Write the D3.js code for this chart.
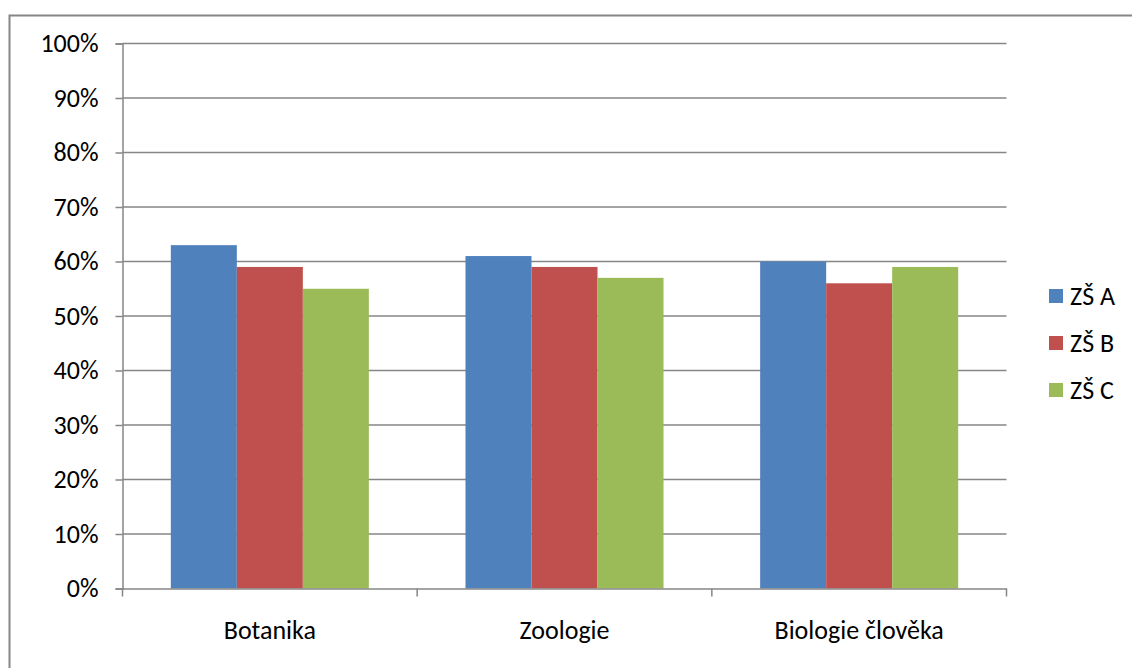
<!DOCTYPE html>
<html>
<head>
<meta charset="utf-8">
<script src="https://cdn.jsdelivr.net/npm/d3@7"></script>
<style>
  html, body { margin: 0; padding: 0; background: #fff; }
  svg { display: block; font-family: Carlito, Lato, "Liberation Sans", sans-serif; }
</style>
</head>
<body>
<svg id="chart" width="1132" height="668"></svg>
<script>
// Categories, series and values (share of correct answers, %)
const categories = ["Botanika", "Zoologie", "Biologie člověka"];
const seriesNames = ["ZŠ A", "ZŠ B", "ZŠ C"];
const valuesA = [63, 61, 60];
const valuesB = [59, 59, 56];
const valuesC = [55, 57, 59];
const yTicks = [0, 10, 20, 30, 40, 50, 60, 70, 80, 90, 100];
const colors = ["#4f81bd", "#c0504d", "#9bbb59"];

const seriesValues = [valuesA, valuesB, valuesC];
const rows = categories.map((c, i) => ({
  category: c,
  values: seriesNames.map((s, j) => ({ series: s, value: seriesValues[j][i] }))
}));

const svg = d3.select("#chart");
const grid = "#868686";
const fontFamily = "Carlito, Lato, 'Liberation Sans', sans-serif";
const fontSize = 26;

// Outer chart frame
svg.append("rect")
  .attr("x", 9.5).attr("y", 15.5)
  .attr("width", 1140).attr("height", 680)
  .attr("fill", "none").attr("stroke", grid).attr("stroke-width", 2);

const plot = { left: 122.5, right: 1006.5, top: 43.5, bottom: 588.5 };

const x0 = d3.scaleBand().domain(categories).range([plot.left, plot.right]).padding(0);
const x1 = d3.scaleBand().domain(seriesNames).range([0, x0.bandwidth()])
  .paddingInner(0).paddingOuter(0.732);
const y = d3.scaleLinear().domain([0, 100]).range([plot.bottom, plot.top]);

// Horizontal gridlines
svg.append("g").selectAll("line").data(yTicks.filter(t => t > 0)).join("line")
  .attr("x1", plot.left).attr("x2", plot.right)
  .attr("y1", d => y(d)).attr("y2", d => y(d))
  .attr("stroke", grid).attr("stroke-width", 1.5);

// Bars
svg.append("g").selectAll("g").data(rows).join("g")
  .attr("transform", d => `translate(${x0(d.category)},0)`)
  .selectAll("rect").data(d => d.values).join("rect")
  .attr("x", d => x1(d.series))
  .attr("width", x1.bandwidth())
  .attr("y", d => y(d.value))
  .attr("height", d => y(0) - y(d.value))
  .attr("fill", (d, i) => colors[i]);

// Y axis
const yAxis = svg.append("g")
  .attr("transform", `translate(${plot.left},0)`)
  .call(d3.axisLeft(y).tickValues(yTicks).tickFormat(d => d + "%").tickSize(7).tickPadding(17))
  .attr("font-family", fontFamily).attr("font-size", fontSize);
yAxis.select(".domain").attr("stroke", grid).attr("stroke-width", 1.5);
yAxis.selectAll(".tick line").attr("stroke", grid).attr("stroke-width", 1.5);
yAxis.selectAll("text").attr("fill", "#000");

// X axis
const xAxis = svg.append("g")
  .attr("transform", `translate(0,${plot.bottom})`)
  .call(d3.axisBottom(x0).tickSize(0).tickPadding(32))
  .attr("font-family", fontFamily).attr("font-size", fontSize);
xAxis.select(".domain").attr("stroke", grid).attr("stroke-width", 1.5);
xAxis.selectAll("text").attr("fill", "#000");

// Category boundary ticks
const boundaries = [plot.left].concat(categories.map(c => x0(c) + x0.bandwidth()));
xAxis.append("g").selectAll("line").data(boundaries).join("line")
  .attr("x1", d => d).attr("x2", d => d)
  .attr("y1", 0).attr("y2", 8)
  .attr("stroke", grid).attr("stroke-width", 1.5);

// Legend
const legend = svg.append("g").attr("transform", "translate(1049,289)");
const items = legend.selectAll("g").data(seriesNames).join("g")
  .attr("transform", (d, i) => `translate(0,${i * 47})`);
items.append("rect").attr("width", 14).attr("height", 14).attr("fill", (d, i) => colors[i]);
items.append("text").attr("x", 21).attr("y", 7).attr("dy", "0.35em")
  .attr("font-family", fontFamily).attr("font-size", fontSize)
  .attr("fill", "#000").text(d => d);
</script>
</body>
</html>
